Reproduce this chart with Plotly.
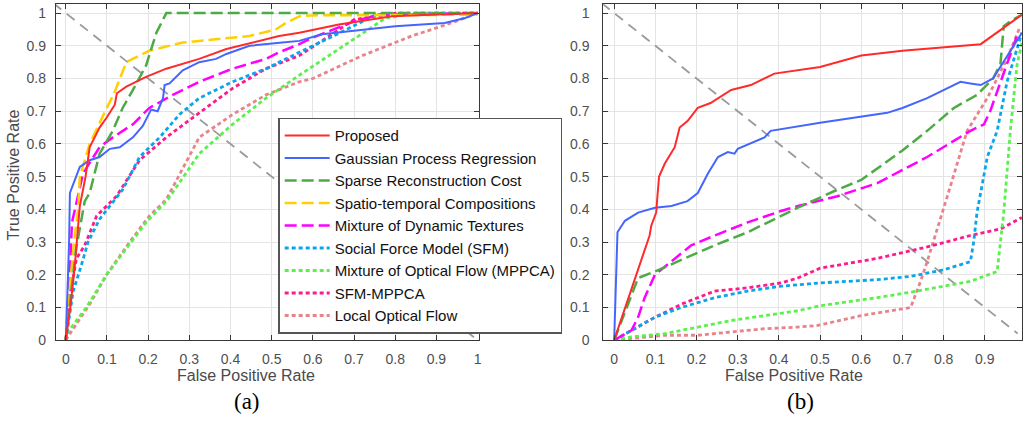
import plotly.graph_objects as go

# ---------------- data: panel (a) ----------------
names = ["Proposed", "Gaussian Process Regression", "Sparse Reconstruction Cost",
         "Spatio-temporal Compositions", "Mixture of Dynamic Textures",
         "Social Force Model (SFM)", "Mixture of Optical Flow (MPPCA)",
         "SFM-MPPCA", "Local Optical Flow"]

a_proposed_x = [0, 0.012, 0.022, 0.034, 0.048, 0.058, 0.082, 0.099, 0.119, 0.124, 0.147, 0.195, 0.244, 0.324, 0.39, 0.518, 0.567, 0.663, 0.792, 1.0]
a_proposed_y = [0, 0.11, 0.23, 0.41, 0.50, 0.59, 0.65, 0.68, 0.72, 0.755, 0.775, 0.805, 0.83, 0.86, 0.89, 0.93, 0.94, 0.965, 0.99, 1.0]

a_gpr_x = [0, 0.008, 0.01, 0.034, 0.058, 0.082, 0.107, 0.131, 0.163, 0.187, 0.207, 0.223, 0.236, 0.240, 0.252, 0.284, 0.324, 0.365, 0.39, 0.446, 0.526, 0.567, 0.622, 0.80, 0.92, 0.97, 1.0]
a_gpr_y = [0, 0.3, 0.45, 0.53, 0.55, 0.56, 0.585, 0.59, 0.62, 0.655, 0.705, 0.70, 0.74, 0.78, 0.785, 0.825, 0.85, 0.86, 0.875, 0.90, 0.91, 0.915, 0.935, 0.96, 0.97, 0.985, 1.0]

a_src_x = [0, 0.01, 0.025, 0.046, 0.058, 0.082, 0.114, 0.138, 0.163, 0.195, 0.220, 0.244, 1.0]
a_src_y = [0, 0.12, 0.28, 0.425, 0.45, 0.57, 0.64, 0.71, 0.765, 0.84, 0.94, 1.0, 1.0]

a_stc_x = [0, 0.005, 0.02, 0.03, 0.034, 0.058, 0.09, 0.119, 0.147, 0.203, 0.284, 0.365, 0.446, 0.51, 0.535, 0.567, 0.60, 1.0]
a_stc_y = [0, 0.1, 0.3, 0.4, 0.5, 0.60, 0.685, 0.76, 0.85, 0.885, 0.91, 0.92, 0.93, 0.95, 0.97, 0.99, 0.993, 0.995]

a_mdt_x = [0, 0.008, 0.015, 0.042, 0.082, 0.114, 0.163, 0.203, 0.26, 0.324, 0.405, 0.486, 0.518, 0.567, 0.60, 0.70, 0.76, 1.0]
a_mdt_y = [0, 0.15, 0.36, 0.51, 0.59, 0.62, 0.66, 0.71, 0.75, 0.79, 0.83, 0.86, 0.88, 0.905, 0.925, 0.975, 0.995, 1.0]

a_sfm_x = [0, 0.018, 0.038, 0.054, 0.082, 0.114, 0.138, 0.179, 0.228, 0.276, 0.324, 0.405, 0.486, 0.567, 0.65, 0.753, 1.0]
a_sfm_y = [0, 0.15, 0.23, 0.30, 0.37, 0.42, 0.46, 0.56, 0.62, 0.69, 0.74, 0.79, 0.83, 0.88, 0.93, 0.995, 1.0]

a_mppca_x = [0, 0.002, 0.05, 0.099, 0.147, 0.195, 0.248, 0.324, 0.405, 0.486, 0.567, 0.65, 0.777, 0.85, 1.0]
a_mppca_y = [0, 0.02, 0.1, 0.2, 0.28, 0.36, 0.43, 0.57, 0.66, 0.74, 0.81, 0.88, 0.985, 1.0, 1.0]

a_sfmmppca_x = [0, 0.012, 0.026, 0.046, 0.075, 0.107, 0.123, 0.179, 0.244, 0.308, 0.405, 0.486, 0.567, 0.70, 0.80, 1.0]
a_sfmmppca_y = [0, 0.15, 0.25, 0.29, 0.38, 0.42, 0.44, 0.55, 0.62, 0.68, 0.77, 0.83, 0.87, 0.98, 1.0, 1.0]

a_lof_x = [0, 0.01, 0.058, 0.099, 0.155, 0.203, 0.244, 0.324, 0.405, 0.486, 0.567, 0.6, 0.72, 0.84, 0.937, 1.0]
a_lof_y = [0, 0.02, 0.11, 0.2, 0.3, 0.38, 0.43, 0.62, 0.69, 0.75, 0.79, 0.80, 0.87, 0.93, 0.97, 1.0]

# ---------------- data: panel (b) ----------------
b_proposed_x = [0, 0.086, 0.09, 0.102, 0.105, 0.109, 0.123, 0.147, 0.159, 0.178, 0.203, 0.234, 0.284, 0.332, 0.389, 0.446, 0.50, 0.60, 0.70, 0.89, 0.99]
b_proposed_y = [0, 0.32, 0.35, 0.39, 0.44, 0.50, 0.54, 0.59, 0.65, 0.67, 0.71, 0.725, 0.765, 0.78, 0.815, 0.825, 0.835, 0.87, 0.885, 0.905, 0.995]

b_gpr_x = [0, 0.008, 0.026, 0.058, 0.099, 0.139, 0.178, 0.194, 0.203, 0.228, 0.252, 0.276, 0.292, 0.3, 0.365, 0.38, 0.446, 0.50, 0.663, 0.70, 0.76, 0.841, 0.865, 0.89, 0.92, 0.99]
b_gpr_y = [0, 0.33, 0.365, 0.39, 0.405, 0.41, 0.425, 0.44, 0.45, 0.51, 0.56, 0.575, 0.57, 0.585, 0.62, 0.64, 0.655, 0.665, 0.695, 0.71, 0.74, 0.79, 0.785, 0.78, 0.80, 0.94]

b_src_x = [0, 0.058, 0.099, 0.171, 0.244, 0.324, 0.405, 0.446, 0.542, 0.60, 0.70, 0.76, 0.825, 0.881, 0.92, 0.938, 0.946, 0.962, 0.99]
b_src_y = [0, 0.19, 0.21, 0.25, 0.29, 0.33, 0.38, 0.405, 0.46, 0.49, 0.58, 0.64, 0.71, 0.75, 0.80, 0.845, 0.96, 0.975, 0.995]

b_mdt_x = [0, 0.042, 0.058, 0.074, 0.099, 0.139, 0.187, 0.244, 0.324, 0.405, 0.446, 0.542, 0.639, 0.76, 0.865, 0.898, 0.913, 0.978]
b_mdt_y = [0, 0.03, 0.07, 0.13, 0.2, 0.24, 0.29, 0.32, 0.36, 0.395, 0.41, 0.44, 0.48, 0.56, 0.64, 0.66, 0.70, 0.93]

b_sfm_x = [0, 0.042, 0.099, 0.163, 0.244, 0.324, 0.405, 0.50, 0.639, 0.72, 0.80, 0.865, 0.873, 0.881, 0.906, 0.93, 0.954, 0.99]
b_sfm_y = [0, 0.03, 0.07, 0.10, 0.13, 0.15, 0.165, 0.175, 0.185, 0.195, 0.215, 0.24, 0.30, 0.39, 0.56, 0.64, 0.79, 0.94]

b_mppca_x = [0, 0.042, 0.123, 0.203, 0.284, 0.365, 0.446, 0.50, 0.639, 0.736, 0.865, 0.93, 0.946, 0.962, 0.978, 0.99]
b_mppca_y = [0, 0.01, 0.02, 0.04, 0.06, 0.075, 0.09, 0.105, 0.13, 0.15, 0.18, 0.21, 0.39, 0.64, 0.84, 0.91]

b_sfmmppca_x = [0, 0.042, 0.099, 0.163, 0.244, 0.324, 0.405, 0.446, 0.50, 0.639, 0.76, 0.865, 0.938, 0.99]
b_sfmmppca_y = [0, 0.03, 0.07, 0.11, 0.15, 0.16, 0.175, 0.19, 0.22, 0.25, 0.285, 0.32, 0.34, 0.375]

b_lof_x = [0, 0.042, 0.123, 0.203, 0.284, 0.365, 0.446, 0.494, 0.60, 0.72, 0.744, 0.76, 0.809, 0.857, 0.906, 0.954, 0.986]
b_lof_y = [0, 0.005, 0.015, 0.015, 0.025, 0.035, 0.04, 0.045, 0.075, 0.10, 0.18, 0.24, 0.44, 0.64, 0.74, 0.86, 0.96]

# chance (diagonal) reference lines
a_diag_x = [-0.03, 1.0]
a_diag_y = [1.03, 0.0]
b_diag_x = [-0.03, 0.98]
b_diag_y = [1.03, 0.02]

tick_vals = [0, 0.1, 0.2, 0.3, 0.4, 0.5, 0.6, 0.7, 0.8, 0.9, 1]
tick_text = ["0", "0.1", "0.2", "0.3", "0.4", "0.5", "0.6", "0.7", "0.8", "0.9", "1"]

# ---------------- styles ----------------
colors = ["#ff2b2b", "#4466ff", "#4daa45", "#ffd000", "#ff00ff",
          "#0aa6ec", "#5cf04f", "#ff1a8c", "#e8838c"]
dashes = ["solid", "solid", "12px,5px", "12px,5px", "12px,5px",
          "4px,3px", "4px,3px", "4px,3px", "4px,3px"]
widths = [2, 2, 2.5, 2.5, 2.5, 2.8, 2.8, 2.8, 2.8]

a_series = [(a_proposed_x, a_proposed_y), (a_gpr_x, a_gpr_y), (a_src_x, a_src_y),
            (a_stc_x, a_stc_y), (a_mdt_x, a_mdt_y), (a_sfm_x, a_sfm_y),
            (a_mppca_x, a_mppca_y), (a_sfmmppca_x, a_sfmmppca_y), (a_lof_x, a_lof_y)]
b_series = {0: (b_proposed_x, b_proposed_y), 1: (b_gpr_x, b_gpr_y), 2: (b_src_x, b_src_y),
            4: (b_mdt_x, b_mdt_y), 5: (b_sfm_x, b_sfm_y), 6: (b_mppca_x, b_mppca_y),
            7: (b_sfmmppca_x, b_sfmmppca_y), 8: (b_lof_x, b_lof_y)}

fig = go.Figure()

diag_line = dict(color="#9a9a9a", width=1.8, dash="10px,7px")
fig.add_trace(go.Scatter(x=a_diag_x, y=a_diag_y, mode="lines", line=diag_line,
                         showlegend=False, hoverinfo="skip", xaxis="x", yaxis="y"))
fig.add_trace(go.Scatter(x=b_diag_x, y=b_diag_y, mode="lines", line=diag_line,
                         showlegend=False, hoverinfo="skip", xaxis="x2", yaxis="y2"))

# draw in reverse so Proposed is on top
for i in reversed(range(len(names))):
    x, y = a_series[i]
    fig.add_trace(go.Scatter(x=x, y=y, mode="lines", name=names[i], legendrank=i + 1,
                             line=dict(color=colors[i], width=widths[i], dash=dashes[i]),
                             xaxis="x", yaxis="y"))
for i in reversed(range(len(names))):
    if i in b_series:
        x, y = b_series[i]
        fig.add_trace(go.Scatter(x=x, y=y, mode="lines", name=names[i], showlegend=False,
                                 line=dict(color=colors[i], width=widths[i], dash=dashes[i]),
                                 xaxis="x2", yaxis="y2"))

W, H = 1025, 427
frame = "#383838"
tick_font = dict(family="Liberation Sans, Arial", size=14, color="#505050")
axis_common = dict(showgrid=True, gridcolor="#e4e4e4", gridwidth=1, zeroline=False,
                   showline=True, linecolor=frame, linewidth=1, mirror="ticks",
                   ticks="inside", ticklen=5, tickcolor=frame, tickwidth=1,
                   tickvals=tick_vals, ticktext=tick_text, tickfont=tick_font)


def py(pix):
    """pixel-from-top -> paper y"""
    return (H - pix) / H


fig.update_layout(
    width=W, height=H,
    margin=dict(l=0, r=0, t=0, b=0),
    paper_bgcolor="white", plot_bgcolor="white",
    xaxis=dict(domain=[56 / W, 480 / W], range=[-0.0242, 1.0024], anchor="y",
               ticklabelstandoff=6, **axis_common),
    yaxis=dict(domain=[py(347), py(4)], range=[-0.001, 1.028], anchor="x",
               ticklabelstandoff=6, **axis_common),
    xaxis2=dict(domain=[605 / W, 1.0], range=[-0.0266, 0.9903], anchor="y2",
                ticklabelstandoff=6, **axis_common),
    yaxis2=dict(domain=[py(347), py(4)], range=[-0.001, 1.028], anchor="x2",
                ticklabelstandoff=10, **axis_common),
    legend=dict(x=279 / W, y=py(120), xanchor="left", yanchor="top",
                bgcolor="white", bordercolor="#555555", borderwidth=1.5,
                font=dict(family="Liberation Sans, Arial", size=15, color="#111111"),
                itemwidth=45, tracegroupgap=0, traceorder="normal"),
    showlegend=True,
)

title_font = dict(family="Liberation Sans, Arial", size=16, color="#4a4a4a")
fig.add_annotation(text="False Positive Rate", x=246.5 / W, y=py(383),
                   xref="paper", yref="paper", showarrow=False, font=title_font,
                   xanchor="center", yanchor="middle")
fig.add_annotation(text="False Positive Rate", x=796 / W, y=py(383),
                   xref="paper", yref="paper", showarrow=False, font=title_font,
                   xanchor="center", yanchor="middle")
fig.add_annotation(text="True Positive Rate", x=14 / W, y=py(178),
                   xref="paper", yref="paper", showarrow=False, font=title_font,
                   textangle=-90, xanchor="center", yanchor="middle")
cap_font = dict(family="Liberation Serif, Times New Roman", size=23, color="#000000")
fig.add_annotation(text="(a)", x=247.5 / W, y=py(409), xref="paper", yref="paper",
                   showarrow=False, font=cap_font, xanchor="center", yanchor="middle")
fig.add_annotation(text="(b)", x=803 / W, y=py(409), xref="paper", yref="paper",
                   showarrow=False, font=cap_font, xanchor="center", yanchor="middle")

# remove the default page margin so the figure starts at the window's top-left corner
fig.write_html("out.html", config={"displayModeBar": False},
               post_script="document.body.style.margin='0px';")
